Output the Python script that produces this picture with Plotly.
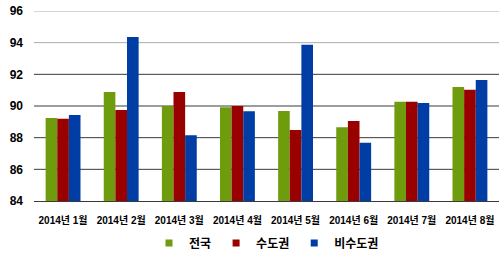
import plotly.graph_objects as go

categories = ["2014년 1월", "2014년 2월", "2014년 3월", "2014년 4월",
              "2014년 5월", "2014년 6월", "2014년 7월", "2014년 8월"]
series_names = ["전국", "수도권", "비수도권"]
nationwide = [89.24, 90.88, 90.0, 89.92, 89.69, 88.65, 90.27, 91.2]
capital = [89.2, 89.75, 90.88, 90.0, 88.48, 89.05, 90.27, 91.03]
non_capital = [89.43, 94.36, 88.15, 89.67, 93.87, 87.68, 90.19, 91.64]
y_ticks = [84, 86, 88, 90, 92, 94, 96]

colors = ["#6E9C0C", "#990000", "#003DA5"]
font_family = "Liberation Sans, Arial, Noto Sans CJK KR"

fig = go.Figure()
for name, vals, col in zip(series_names, [nationwide, capital, non_capital], colors):
    fig.add_trace(go.Bar(x=categories, y=vals, name=name, marker_color=col,
                         marker_line_width=0, showlegend=False))
# legend entries with small square swatches
for name, col in zip(series_names, colors):
    fig.add_trace(go.Scatter(x=[None], y=[None], mode="markers", name=name,
                             marker=dict(symbol="square", size=7, color=col)))

# lighter gridlines at the top two ticks, darker ones below
for t in y_ticks[1:]:
    fig.add_shape(type="line", xref="paper", yref="y", x0=0, x1=1, y0=t, y1=t,
                  line=dict(color="#AAAAAA" if t >= 94 else "#3A3A3A", width=1),
                  layer="below")

fig.update_layout(
    width=500, height=255,
    margin=dict(l=34, r=1, t=11, b=54, autoexpand=False),
    paper_bgcolor="white", plot_bgcolor="white",
    barmode="group", bargap=0.4, bargroupgap=0,
    showlegend=True,
    legend=dict(orientation="h", x=0.5, xanchor="center", yref="container",
                y=12 / 255, yanchor="middle",
                font=dict(family=font_family, size=12, color="#000", weight=700),
                itemwidth=30, traceorder="normal"),
    xaxis=dict(showgrid=False, showline=True, linecolor="#3A3A3A", linewidth=1,
               ticks="", automargin=False, ticklabelstandoff=10,
               tickfont=dict(family=font_family, size=10, color="#000", weight=700)),
    yaxis=dict(range=[84, 96], tickvals=y_ticks, showgrid=False, zeroline=False,
               showline=False, ticks="", ticklabelstandoff=10, automargin=False,
               tickfont=dict(family=font_family, size=12, color="#000", weight=700)),
)

fig.write_html("out.html")
